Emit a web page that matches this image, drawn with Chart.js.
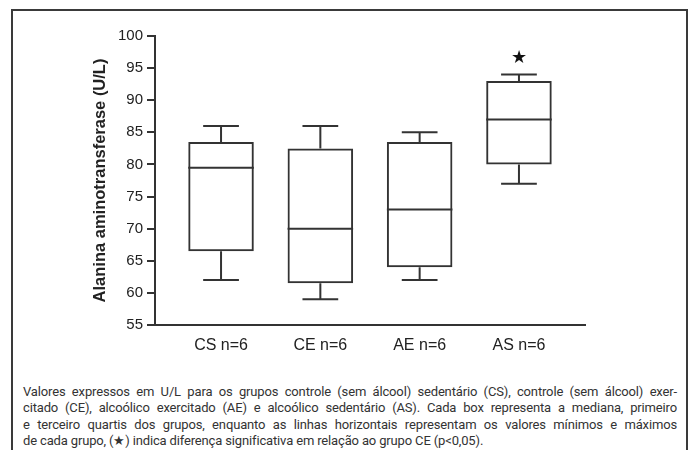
<!DOCTYPE html>
<html>
<head>
<meta charset="utf-8">
<script src="https://cdn.jsdelivr.net/npm/chart.js@4.4.1/dist/chart.umd.min.js"></script>
<style>
  html, body { margin: 0; padding: 0; background: #fff; }
  body { width: 694px; height: 450px; position: relative; overflow: hidden; }
  #frame {
    position: absolute; left: 11px; top: 9px; width: 677px; height: 470px;
    box-sizing: border-box; border: 2px solid #3a3a3a; border-bottom: none;
  }
  #wrap { position: absolute; left: 0; top: 0; width: 694px; height: 372px; }
  #caption {
    position: absolute; left: 23px; top: 384px; width: 654px;
    font-family: Roboto, sans-serif; font-size: 13px; font-weight: 400;
    letter-spacing: -0.15px; line-height: 16.3px; color: #333;
  }
  #caption div { text-align: justify; text-align-last: justify; white-space: nowrap; }
  #caption div.last { text-align-last: left; }
</style>
</head>
<body>
<div id="frame"></div>
<div id="wrap"><canvas id="boxChart"></canvas></div>
<div id="caption">
  <div>Valores expressos em U/L para os grupos controle (sem álcool) sedentário (CS), controle (sem álcool) exer-</div>
  <div>citado (CE), alcoólico exercitado (AE) e alcoólico sedentário (AS). Cada box representa a mediana, primeiro</div>
  <div>e terceiro quartis dos grupos, enquanto as linhas horizontais representam os valores mínimos e máximos</div>
  <div class="last">de cada grupo, (★) indica diferença significativa em relação ao grupo CE (p&lt;0,05).</div>
</div>
<script>
  // grupos e valores (U/L)
  const categories = ['CS n=6', 'CE n=6', 'AE n=6', 'AS n=6']
  const minVals = [62, 59, 62, 77]
  const q1Vals = [66.5, 61.5, 64, 80]
  const medianVals = [79.5, 70, 73, 87]
  const q3Vals = [83.5, 82.5, 83.5, 93]
  const maxVals = [86, 86, 85, 94]
  const starAt = [null, null, null, 96.6]
  const yMin = 55
  const yMax = 100
  const yStep = 5

  const lineColor = '#333'

  // mediana, whiskers e estrela desenhados a partir das escalas
  const boxExtras = {
    id: 'boxExtras',
    afterDatasetsDraw(chart) {
      const { ctx, scales: { x, y } } = chart
      const bars = chart.getDatasetMeta(0).data
      ctx.save()
      ctx.strokeStyle = lineColor
      ctx.lineWidth = 2
      categories.forEach((c, i) => {
        const bar = bars[i]
        const cx = x.getPixelForValue(i)
        const half = bar.width / 2
        const cap = (x.getPixelForValue(i + 0.18) - cx)
        ctx.beginPath()
        // mediana
        ctx.moveTo(cx - half, y.getPixelForValue(medianVals[i]))
        ctx.lineTo(cx + half, y.getPixelForValue(medianVals[i]))
        // whisker superior
        ctx.moveTo(cx, y.getPixelForValue(q3Vals[i]))
        ctx.lineTo(cx, y.getPixelForValue(maxVals[i]))
        ctx.moveTo(cx - cap, y.getPixelForValue(maxVals[i]))
        ctx.lineTo(cx + cap, y.getPixelForValue(maxVals[i]))
        // whisker inferior
        ctx.moveTo(cx, y.getPixelForValue(q1Vals[i]))
        ctx.lineTo(cx, y.getPixelForValue(minVals[i]))
        ctx.moveTo(cx - cap, y.getPixelForValue(minVals[i]))
        ctx.lineTo(cx + cap, y.getPixelForValue(minVals[i]))
        ctx.stroke()
        if (starAt[i] != null) {
          ctx.fillStyle = '#111'
          ctx.font = '18px "DejaVu Sans"'
          ctx.textAlign = 'center'
          ctx.textBaseline = 'middle'
          ctx.fillText('★', cx, y.getPixelForValue(starAt[i]))
        }
      })
      ctx.restore()
    }
  }

  new Chart(document.getElementById('boxChart'), {
    type: 'bar',
    data: {
      datasets: [
        {
          label: 'Q1-Q3',
          data: categories.map((c, i) => ({ x: i, y: [q1Vals[i], q3Vals[i]] })),
          backgroundColor: 'rgba(255,255,255,0)',
          borderColor: lineColor,
          borderWidth: 2,
          borderSkipped: false,
          categoryPercentage: 1,
          barPercentage: 0.66
        }
      ]
    },
    options: {
      responsive: true,
      maintainAspectRatio: false,
      animation: false,
      layout: { padding: { left: 78, top: 36, right: 109, bottom: 0 } },
      plugins: {
        legend: { display: false },
        tooltip: { enabled: false }
      },
      scales: {
        x: {
          type: 'linear',
          offset: false,
          min: -0.665,
          max: 3.665,
          afterBuildTicks: (scale) => { scale.ticks = categories.map((c, i) => ({ value: i })) },
          afterFit: (scale) => { scale.height = 47 },
          grid: { display: false, drawTicks: false, offset: false },
          border: { display: true, color: lineColor, width: 2 },
          ticks: {
            callback: (v) => categories[v],
            padding: 11,
            color: '#222',
            font: { family: '"Liberation Sans", Arial', size: 16 }
          }
        },
        y: {
          min: yMin,
          max: yMax,
          afterFit: (scale) => { scale.width = 155 - 78 },
          grid: { drawOnChartArea: false, drawTicks: true, tickLength: 8, color: lineColor, lineWidth: 2 },
          border: { display: true, color: lineColor, width: 2 },
          ticks: {
            stepSize: yStep,
            padding: 4,
            color: '#222',
            font: { family: '"Liberation Sans", Arial', size: 15 }
          },
          title: {
            display: true,
            text: 'Alanina aminotransferase (U/L)',
            color: '#222',
            padding: { top: 13, bottom: 4 },
            font: { family: '"Liberation Sans", Arial', size: 16.5, weight: 'bold' }
          }
        }
      }
    },
    plugins: [boxExtras]
  })
</script>
</body>
</html>
